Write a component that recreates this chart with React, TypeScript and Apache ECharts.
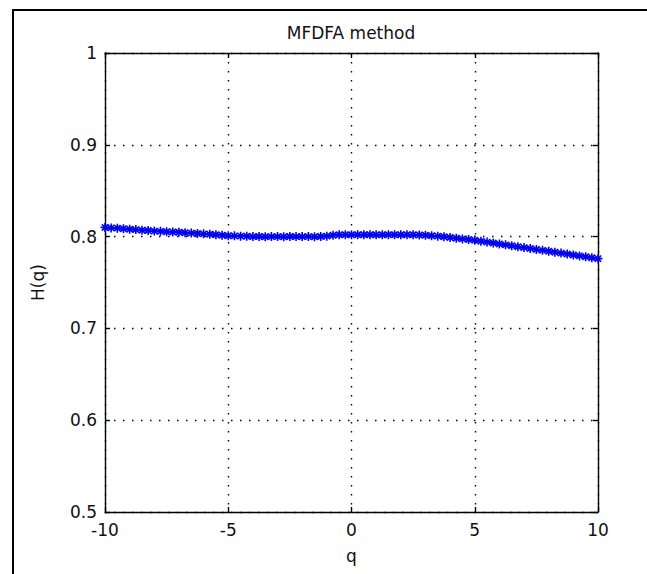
import React, { useEffect, useRef } from "react";
import * as echarts from "echarts";

const qValues: number[] = [
  -10, -9.75, -9.5, -9.25, -9, -8.75, -8.5, -8.25, -8, -7.75, -7.5, -7.25, -7, -6.75, -6.5, -6.25,
  -6, -5.75, -5.5, -5.25, -5, -4.75, -4.5, -4.25, -4, -3.75, -3.5, -3.25, -3, -2.75, -2.5, -2.25,
  -2, -1.75, -1.5, -1.25, -1, -0.75, -0.5, -0.25, 0, 0.25, 0.5, 0.75, 1, 1.25, 1.5, 1.75,
  2, 2.25, 2.5, 2.75, 3, 3.25, 3.5, 3.75, 4, 4.25, 4.5, 4.75, 5, 5.25, 5.5, 5.75,
  6, 6.25, 6.5, 6.75, 7, 7.25, 7.5, 7.75, 8, 8.25, 8.5, 8.75, 9, 9.25, 9.5, 9.75, 10,
];

const hValues: number[] = [
  0.810, 0.8095, 0.8092, 0.8086, 0.808, 0.8076, 0.807, 0.8066, 0.806, 0.8057, 0.8053, 0.805, 0.8047, 0.8042, 0.8038, 0.8034,
  0.803, 0.8026, 0.802, 0.8015, 0.801, 0.8008, 0.8005, 0.8003, 0.8, 0.8001, 0.7999, 0.8, 0.8, 0.7999, 0.8001, 0.8,
  0.8, 0.8, 0.7999, 0.8001, 0.8005, 0.8015, 0.802, 0.802, 0.8021, 0.802, 0.802, 0.8021, 0.802, 0.802, 0.8021, 0.802,
  0.802, 0.802, 0.802, 0.8018, 0.8015, 0.801, 0.8005, 0.7998, 0.799, 0.7983, 0.7975, 0.7968, 0.796, 0.795, 0.794, 0.793,
  0.792, 0.791, 0.790, 0.789, 0.788, 0.787, 0.786, 0.785, 0.784, 0.783, 0.782, 0.781, 0.780, 0.779, 0.778, 0.777, 0.776,
];

const xTicks = { min: -10, max: 10, interval: 5 };
const yTicks = { min: 0.5, max: 1, interval: 0.1 };

const titleText = "MFDFA method";
const xName = "q";
const yName = "H(q)";

const FONT = "DejaVu Sans";
const FS = 17;

export default function App() {
  const ref = useRef<HTMLDivElement>(null);
  useEffect(() => {
    if (!ref.current) return;
    const chart = echarts.init(ref.current, null, { renderer: "svg" });
    const dotted = { color: "#000", width: 1.4, type: [1.5, 7.5] as number[] };
    const axisLine = { show: true, onZero: false, lineStyle: { color: "#000", width: 1.4 } };
    const tickIn = { show: true, inside: true, length: 5, lineStyle: { color: "#000", width: 1.4 } };
    const label = { fontFamily: FONT, fontSize: FS, color: "#111" };
    chart.setOption({
      animation: false,
      backgroundColor: "#fff",
      title: {
        text: titleText,
        left: 346,
        top: 19,
        textAlign: "center",
        textStyle: { ...label, fontWeight: "normal" },
      },
      grid: { left: 105, top: 53, right: 49, bottom: 62, containLabel: false },
      graphic: [
        {
          type: "rect",
          shape: { x: 13, y: 10, width: 700, height: 700 },
          style: { fill: "none", stroke: "#000", lineWidth: 2 },
          silent: true,
        },
      ],
      xAxis: [
        {
          type: "value",
          position: "bottom",
          min: xTicks.min,
          max: xTicks.max,
          interval: xTicks.interval,
          name: xName,
          nameLocation: "middle",
          nameGap: 35,
          nameTextStyle: label,
          axisLine,
          axisTick: tickIn,
          axisLabel: { ...label, margin: 9 },
          splitLine: { show: true, lineStyle: dotted },
        },
        {
          type: "value",
          position: "top",
          min: xTicks.min,
          max: xTicks.max,
          interval: xTicks.interval,
          axisLine,
          axisTick: tickIn,
          axisLabel: { show: false },
          splitLine: { show: false },
        },
      ],
      yAxis: [
        {
          type: "value",
          position: "left",
          min: yTicks.min,
          max: yTicks.max,
          interval: yTicks.interval,
          name: yName,
          nameLocation: "middle",
          nameRotate: 90,
          nameGap: 59,
          nameTextStyle: label,
          axisLine,
          axisTick: tickIn,
          axisLabel: {
            ...label,
            margin: 8,
            formatter: (v: number) => (Math.abs(v - 1) < 1e-9 ? "1" : v.toFixed(1)),
          },
          splitLine: { show: true, lineStyle: dotted },
        },
        {
          type: "value",
          position: "right",
          min: yTicks.min,
          max: yTicks.max,
          interval: yTicks.interval,
          axisLine,
          axisTick: tickIn,
          axisLabel: { show: false },
          splitLine: { show: false },
        },
      ],
      series: [
        {
          type: "line",
          data: qValues.map((q, i) => [q, hValues[i]]),
          xAxisIndex: 0,
          yAxisIndex: 0,
          symbol: "path://M5,0L5,10M0,5L10,5M1.5,1.5L8.5,8.5M1.5,8.5L8.5,1.5",
          symbolSize: 9,
          showSymbol: true,
          showAllSymbol: true,
          lineStyle: { color: "#0000ee", width: 2.5 },
          itemStyle: { color: "#0000ee", borderColor: "#0000ee", borderWidth: 1.6 },
          clip: false,
        },
      ],
    });
    return () => chart.dispose();
  }, []);
  return (
    <div
      ref={ref}
      style={{ position: "fixed", left: 0, top: 0, width: 647, height: 574, background: "#fff" }}
    />
  );
}
